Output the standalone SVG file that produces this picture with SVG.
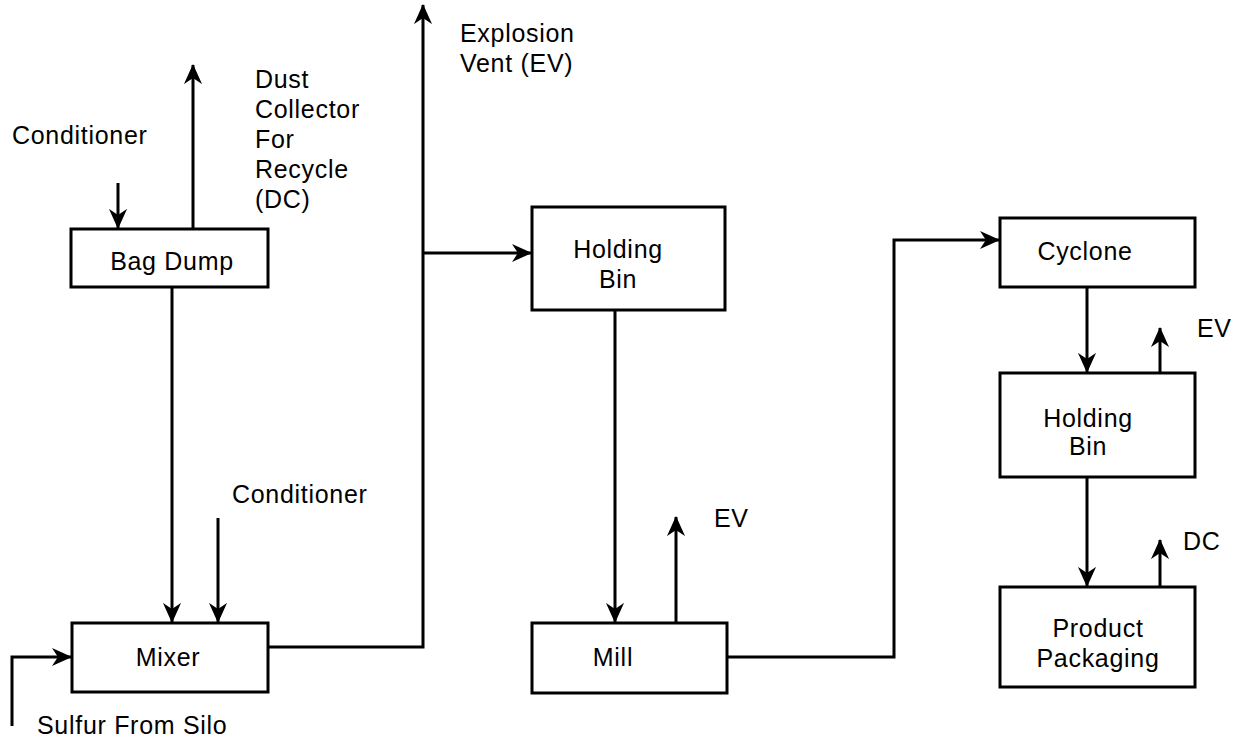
<svg xmlns="http://www.w3.org/2000/svg" width="1242" height="742" viewBox="0 0 1242 742">
<style>
.box{fill:#fff;stroke:#000;stroke-width:3}
.ln{fill:none;stroke:#000;stroke-width:3;stroke-linejoin:miter}
.ar{marker-end:url(#ah)}
text{font-family:"Liberation Sans",Arial,sans-serif;font-size:25px;letter-spacing:0.7px;fill:#000}
.c{text-anchor:middle}
</style>
<defs>
<marker id="ah" viewBox="0 0 20 20" refX="19" refY="10" markerWidth="6.7" markerHeight="6.7" markerUnits="strokeWidth" orient="auto">
<path d="M0,1 L20,10 L0,19 L6,10 Z" fill="#000"/>
</marker>
</defs>
<rect width="1242" height="742" fill="#fff"/>
<g id="connectors">
<path class="ln ar" d="M118,183 V228"/>
<path class="ln ar" d="M193,229 V65"/>
<path class="ln ar" d="M172,287 V622"/>
<path class="ln ar" d="M218,518 V622"/>
<path class="ln ar" d="M12,726 V657 H71"/>
<path class="ln ar" d="M268,647 H423 V5"/>
<path class="ln ar" d="M423,253 H531"/>
<path class="ln ar" d="M615,310 V622"/>
<path class="ln ar" d="M676,623 V517"/>
<path class="ln ar" d="M727,657 H894 V240 H999"/>
<path class="ln ar" d="M1087,287 V372"/>
<path class="ln ar" d="M1160,373 V328"/>
<path class="ln ar" d="M1087,477 V586"/>
<path class="ln ar" d="M1160,587 V540"/>
</g>
<g id="labels">
<text x="12" y="144">Conditioner</text>
<text x="255" y="88">Dust</text>
<text x="255" y="118">Collector</text>
<text x="255" y="148">For</text>
<text x="255" y="178">Recycle</text>
<text x="255" y="208">(DC)</text>
<text x="232" y="503">Conditioner</text>
<text x="37" y="734">Sulfur From Silo</text>
<text x="460" y="42">Explosion</text>
<text x="460" y="72">Vent (EV)</text>
<text x="714" y="527">EV</text>
<text x="1197" y="337">EV</text>
<text x="1183" y="550">DC</text>
</g>
<g id="bag-dump">
<rect class="box" x="71" y="229" width="197" height="58"/>
<text class="c" x="172" y="270">Bag Dump</text>
</g>
<g id="mixer">
<rect class="box" x="72" y="623" width="196" height="69"/>
<text class="c" x="168" y="666">Mixer</text>
</g>
<g id="holding-bin-1">
<rect class="box" x="532" y="207" width="193" height="103"/>
<text class="c" x="618" y="258">Holding</text>
<text class="c" x="618" y="288">Bin</text>
</g>
<g id="mill">
<rect class="box" x="532" y="623" width="195" height="70"/>
<text class="c" x="613" y="666">Mill</text>
</g>
<g id="cyclone">
<rect class="box" x="1000" y="218" width="195" height="69"/>
<text class="c" x="1085" y="260">Cyclone</text>
</g>
<g id="holding-bin-2">
<rect class="box" x="1000" y="373" width="195" height="104"/>
<text class="c" x="1088" y="427">Holding</text>
<text class="c" x="1088" y="455">Bin</text>
</g>
<g id="product-packaging">
<rect class="box" x="1000" y="587" width="195" height="100"/>
<text class="c" x="1098" y="637">Product</text>
<text class="c" x="1098" y="667">Packaging</text>
</g>
</svg>
